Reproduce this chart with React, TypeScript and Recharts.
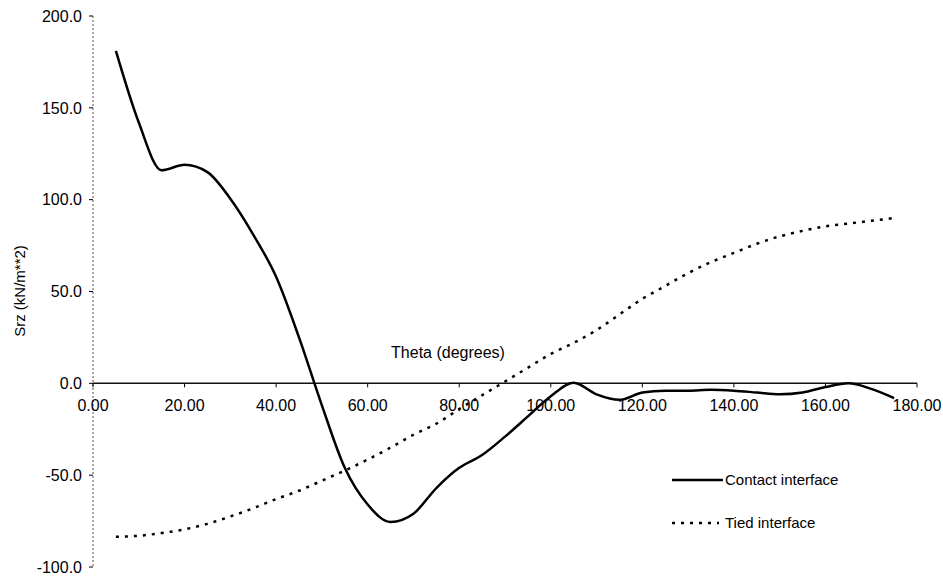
import React from "react";
import {
  LineChart,
  Line,
  XAxis,
  YAxis,
  ReferenceLine,
  Legend,
} from "recharts";

const thetas = [
  5, 10, 15, 20, 25, 30, 35, 40, 45, 50, 55, 60, 65, 70, 75, 80, 85, 90, 95,
  100, 105, 110, 115, 120, 125, 130, 135, 140, 145, 150, 155, 160, 165, 170, 175,
];

const contactInterface = [
  181, 142, 116, 119, 115, 100.5, 81, 58, 25, -12, -46, -66, -75.5, -71, -57,
  -46, -39, -29, -18, -7, 0.3, -6, -9, -5, -4, -4, -3.5, -4, -5, -6, -5, -2, 0,
  -3, -8,
];

const tiedInterface = [
  -83.5, -83, -81.5, -79.5, -76.5, -72.5, -68, -63, -58.5, -53, -47.5, -41.5,
  -35, -28, -22, -14, -6.5, 1, 8.5, 16, 22, 29, 37.5, 46, 53, 60, 66, 71, 76, 80,
  83, 85.5, 87, 88.5, 90,
];

const xTicks = [0, 20, 40, 60, 80, 100, 120, 140, 160, 180];
const yTicks = [-100, -50, 0, 50, 100, 150, 200];

const data = thetas.map((t, i) => ({
  theta: t,
  contact: contactInterface[i],
  tied: tiedInterface[i],
}));

const FONT = "'Liberation Sans', Arial, Helvetica, sans-serif";
const TOP = 16;
const BOTTOM = 567;
// pixel row of the zero line, where the x axis sits
const ZERO_Y = TOP + ((BOTTOM - TOP) * 200) / 300;

const XTick = ({ x, payload }: any) => (
  <g>
    <line x1={x} x2={x} y1={ZERO_Y} y2={ZERO_Y + 4} stroke="#000" strokeWidth={1} />
    <text
      x={x}
      y={ZERO_Y + 28}
      textAnchor="middle"
      fontSize={16}
      fontFamily={FONT}
      fill="#000"
    >
      {Number(payload.value).toFixed(2)}
    </text>
  </g>
);

const ThetaLabel = () => (
  <text x={448} y={358} textAnchor="middle" fontSize={16} fontFamily={FONT} fill="#000">
    Theta (degrees)
  </text>
);

const SrzLabel = () => (
  <text
    x={19}
    y={291}
    transform="rotate(-90 19 291)"
    textAnchor="middle"
    dominantBaseline="central"
    fontSize={15}
    fontFamily={FONT}
    fill="#000"
  >
    Srz (kN/m**2)
  </text>
);

const renderLegend = (props: any) => (
  <div style={{ fontFamily: FONT, fontSize: 15, color: "#000" }}>
    {(props.payload || []).map((entry: any) => (
      <div
        key={entry.value}
        style={{ display: "flex", alignItems: "center", height: 43 }}
      >
        <svg width={53} height={10} style={{ display: "block" }}>
          <line
            x1={0}
            y1={5}
            x2={entry.dataKey === "tied" ? 47 : 51}
            y2={5}
            stroke="#000"
            strokeWidth={2.5}
            strokeDasharray={entry.dataKey === "tied" ? "3 6" : undefined}
          />
        </svg>
        <span>{entry.value}</span>
      </div>
    ))}
  </div>
);

export default function App() {
  return (
    <div
      style={{
        position: "absolute",
        left: 0,
        top: 0,
        width: 943,
        height: 576,
        background: "#fff",
      }}
    >
      <LineChart
        width={943}
        height={576}
        data={data}
        margin={{ top: TOP, right: 26, bottom: 576 - BOTTOM - 2, left: 8 }}
      >
        <XAxis
          dataKey="theta"
          type="number"
          domain={[0, 180]}
          ticks={xTicks}
          interval={0}
          height={2}
          axisLine={false}
          tickLine={false}
          tick={XTick}
          label={<ThetaLabel />}
        />
        <YAxis
          type="number"
          domain={[-100, 200]}
          ticks={yTicks}
          width={85}
          interval={0}
          tickFormatter={(v) => Number(v).toFixed(1)}
          tick={{ fontSize: 16, fill: "#000", fontFamily: FONT }}
          tickSize={4}
          tickMargin={7}
          tickLine={{ stroke: "#000" }}
          axisLine={{ stroke: "#555", strokeDasharray: "2 2" }}
          label={<SrzLabel />}
        />
        <ReferenceLine y={0} stroke="#111" strokeWidth={1.5} />
        <Legend
          layout="vertical"
          align="center"
          verticalAlign="middle"
          content={renderLegend}
          wrapperStyle={{ left: 672, top: 458, width: 200 }}
        />
        <Line
          type="monotone"
          dataKey="contact"
          name="Contact interface"
          stroke="#000"
          strokeWidth={2.5}
          dot={false}
          activeDot={false}
          isAnimationActive={false}
        />
        <Line
          type="monotone"
          dataKey="tied"
          name="Tied interface"
          stroke="#000"
          strokeWidth={2.5}
          strokeDasharray="3 6"
          dot={false}
          activeDot={false}
          isAnimationActive={false}
        />
      </LineChart>
    </div>
  );
}
